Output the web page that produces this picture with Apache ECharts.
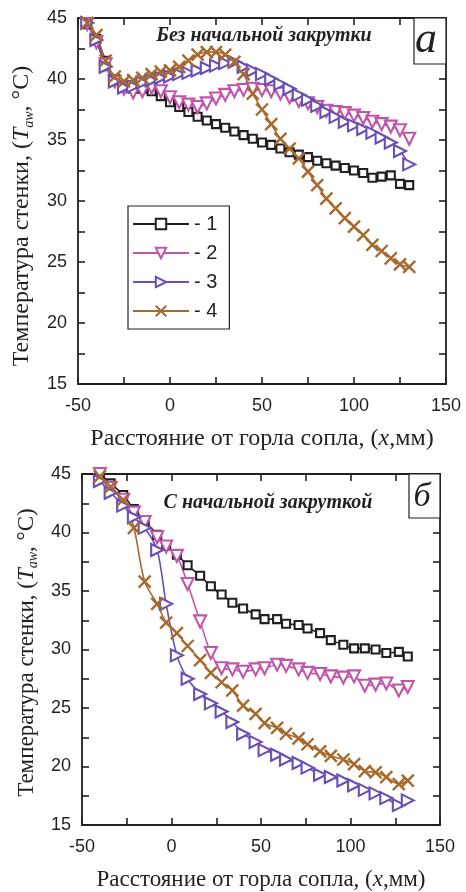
<!DOCTYPE html>
<html>
<head>
<meta charset="utf-8">
<script src="https://cdn.jsdelivr.net/npm/echarts@6/dist/echarts.min.js"></script>
<style>
  html, body { margin: 0; padding: 0; background: #fff; }
  #chart { width: 466px; height: 892px; }
</style>
</head>
<body>
<div id="chart"></div>
<script>
// Axis ticks shared by both panels
const xTicks = [-50, 0, 50, 100, 150];
const yTicks = [15, 20, 25, 30, 35, 40, 45];
const seriesNames = ['- 1', '- 2', '- 3', '- 4'];

// Panel а: без начальной закрутки
const xA = [-45, -40, -35, -30, -25, -20, -15, -10, -5, 0, 5, 10, 15, 20, 25, 30, 35, 40, 45, 50,
            55, 60, 65, 70, 75, 80, 85, 90, 95, 100, 105, 110, 115, 120, 125, 130];
const a1 = [44.5, 43.3, 41.5, 40.0, 39.4, 39.2, 39.2, 39.0, 38.6, 38.1, 37.7, 37.3, 36.9, 36.6, 36.3, 36.0, 35.7, 35.4, 35.1, 34.8,
            34.6, 34.3, 34.0, 33.8, 33.6, 33.3, 33.1, 32.9, 32.7, 32.5, 32.3, 31.9, 32.0, 32.1, 31.4, 31.3];
const a2 = [44.5, 43.0, 41.2, 39.8, 39.2, 38.9, 39.0, 39.3, 39.0, 38.5, 38.1, 37.9, 37.7, 38.0, 38.4, 38.7, 39.0, 39.1, 39.2, 39.1,
            39.0, 38.8, 38.5, 38.2, 38.0, 37.7, 37.4, 37.3, 37.2, 37.0, 36.8, 36.5, 36.3, 36.1, 35.8, 35.1];
const a3 = [44.6, 43.2, 41.0, 39.8, 39.3, 39.4, 39.7, 39.9, 40.1, 40.2, 40.4, 40.5, 40.7, 40.9, 41.1, 41.3, 41.4, 41.0, 40.7, 40.4,
            40.0, 39.6, 39.2, 38.7, 38.3, 37.8, 37.3, 36.9, 36.5, 36.2, 35.9, 35.6, 35.2, 34.8, 34.1, 33.0];
const a4 = [44.6, 43.6, 41.5, 40.2, 39.8, 39.9, 40.1, 40.4, 40.6, 40.7, 41.0, 41.5, 42.0, 42.2, 42.2, 42.0, 41.4, 40.4, 38.8, 37.5,
            36.3, 35.1, 34.3, 33.5, 32.4, 31.3, 30.2, 29.4, 28.6, 27.9, 27.2, 26.4, 25.9, 25.3, 24.8, 24.6];

// Panel б: с начальной закруткой
const xB = [-40, -34, -27, -21, -15, -8, -3, 3, 9, 16, 22, 28, 34, 40, 47, 52, 59, 64, 71, 76,
            83, 89, 96, 102, 108, 114, 120, 127, 132];
const b1 = [45.0, 44.2, 43.2, 42.0, 41.0, 39.8, 38.9, 38.1, 37.2, 36.3, 35.4, 34.7, 34.0, 33.5, 33.0, 32.6, 32.6, 32.2, 32.1, 31.8,
            31.4, 30.8, 30.4, 30.1, 30.1, 30.0, 29.7, 29.8, 29.4];
const b2 = [45.0, 43.8, 42.8, 41.7, 40.9, 39.6, 38.8, 38.0, 35.6, 32.4, 29.7, 28.4, 28.3, 28.1, 28.3, 28.4, 28.7, 28.6, 28.3, 28.0,
            27.9, 27.7, 27.6, 27.7, 26.9, 27.0, 27.1, 26.5, 26.8];
const b3 = [44.4, 43.4, 42.3, 41.3, 40.4, 38.5, 33.9, 29.5, 27.5, 26.2, 25.4, 24.7, 23.8, 22.8, 22.1, 21.4, 21.0, 20.6, 20.3, 19.9,
            19.3, 19.1, 18.8, 18.4, 18.0, 17.7, 17.3, 16.7, 17.1];
const b4 = [44.8, 43.9, 42.8, 40.4, 35.8, 33.9, 32.3, 31.4, 30.3, 29.1, 28.0, 27.2, 26.5, 25.2, 24.5, 23.7, 23.3, 22.8, 22.4, 21.9,
            21.3, 20.9, 20.6, 20.2, 19.6, 19.5, 19.1, 18.5, 18.8];

const INK = '#231f20';
const COLORS = ['#231f20', '#c155aa', '#6a4fb3', '#a8692c'];
const SERIF = '"Liberation Serif", "Times New Roman", serif';
const SANS = '"Liberation Sans", Arial, sans-serif';

// marker per series: open square, down triangle, right triangle, cross
const MARKERS = [
  { symbol: 'rect', size: 8, rotate: 0 },
  { symbol: 'triangle', size: 12, rotate: 180 },
  { symbol: 'triangle', size: 12, rotate: -90 },
  { symbol: 'path://M0,0L10,10M10,0L0,10', size: 12, rotate: 0 }
];

const zip = (xs, ys) => xs.map((x, i) => [x, ys[i]]);

const grids = [
  { left: 78, top: 18, width: 368, height: 366 },
  { left: 82, top: 474, width: 358, height: 358 }
];

const axisLine = { show: true, onZero: false, lineStyle: { color: INK, width: 1.8 } };
const tick = { show: true, inside: true, length: 7, lineStyle: { color: INK, width: 1.6 } };
const minor = { show: true, splitNumber: 2, length: 7, lineStyle: { color: INK, width: 1.6 } };

const xName = '{r|Расстояние от горла сопла, (}{i|x}{r|,мм)}';
const yName = '{r|Температура стенки, (}{i|T}{s|aw}{r|, °C)}';
function nameRich(fs) {
  return {
    r: { fontFamily: SERIF, fontSize: fs, color: INK, lineHeight: fs + 4 },
    i: { fontFamily: SERIF, fontSize: fs, fontStyle: 'italic', color: INK, lineHeight: fs + 4 },
    s: { fontFamily: SERIF, fontSize: Math.round(fs * 0.6), fontStyle: 'italic', color: INK,
         verticalAlign: 'bottom', lineHeight: fs + 4, padding: [Math.round(fs * 0.45), 0, 0, 0] }
  };
}

const nameSize = [24, 23];
const yGap = [31, 32];
const yPad = [[0, 30, 0, 0], [0, 6, 0, 0]];

const xAxes = [], yAxes = [];
[0, 1].forEach(g => {
  xAxes.push({
    type: 'value', gridIndex: g, position: 'bottom',
    min: xTicks[0], max: xTicks[xTicks.length - 1], interval: 50,
    axisLine, axisTick: tick, minorTick: minor, splitLine: { show: false },
    axisLabel: { color: INK, fontFamily: SANS, fontSize: 18, margin: 13 },
    name: xName, nameLocation: 'middle', nameGap: 41,
    nameTextStyle: { rich: nameRich(nameSize[g]) }
  });
  xAxes.push({
    type: 'value', gridIndex: g, position: 'top',
    min: xTicks[0], max: xTicks[xTicks.length - 1], interval: 50,
    axisLine, axisTick: tick, minorTick: minor, splitLine: { show: false },
    axisLabel: { show: false }
  });
  yAxes.push({
    type: 'value', gridIndex: g, position: 'left',
    min: yTicks[0], max: yTicks[yTicks.length - 1], interval: 5,
    axisLine, axisTick: tick, minorTick: minor, splitLine: { show: false },
    axisLabel: { color: INK, fontFamily: SANS, fontSize: 18, margin: 11 },
    name: yName, nameLocation: 'middle', nameGap: yGap[g],
    nameTextStyle: { rich: nameRich(nameSize[g]), padding: yPad[g] }
  });
  yAxes.push({
    type: 'value', gridIndex: g, position: 'right',
    min: yTicks[0], max: yTicks[yTicks.length - 1], interval: 5,
    axisLine, axisTick: tick, minorTick: minor, splitLine: { show: false },
    axisLabel: { show: false }
  });
});

function makeSeries(g, xs, ys, k) {
  const m = MARKERS[k];
  return {
    type: 'line', name: seriesNames[k],
    xAxisIndex: g * 2, yAxisIndex: g * 2,
    data: zip(xs, ys),
    smooth: 0.3,
    symbol: m.symbol, symbolSize: m.size, symbolRotate: m.rotate,
    showAllSymbol: true,
    lineStyle: { color: COLORS[k], width: 1.6 },
    itemStyle: {
      color: k === 3 ? COLORS[k] : '#ffffff',
      borderColor: COLORS[k],
      borderWidth: k === 3 ? 2.4 : 2.1
    },
    emphasis: { disabled: true },
    animation: false
  };
}

const series = [];
[a1, a2, a3, a4].forEach((ys, k) => series.push(makeSeries(0, xA, ys, k)));
[b1, b2, b3, b4].forEach((ys, k) => series.push(makeSeries(1, xB, ys, k)));

const chart = echarts.init(document.getElementById('chart'), null, { renderer: 'canvas' });
chart.setOption({
  backgroundColor: '#ffffff',
  animation: false,
  grid: grids,
  xAxis: xAxes,
  yAxis: yAxes,
  legend: {
    data: seriesNames,
    orient: 'vertical',
    left: 128, top: 206,
    itemWidth: 56, itemHeight: 13, itemGap: 9,
    padding: [8, 12, 8, 4],
    borderColor: INK, borderWidth: 1.2,
    backgroundColor: '#ffffff',
    textStyle: { color: INK, fontFamily: SANS, fontSize: 20 },
    selectedMode: false
  },
  graphic: [
    {
      type: 'text',
      style: { text: 'Без начальной закрутки', fill: INK, font: 'italic bold 20px ' + SERIF, textAlign: 'center', textVerticalAlign: 'middle' },
      x: 264, y: 36, z: 10
    },
    {
      type: 'text',
      style: { text: 'С начальной закруткой', fill: INK, font: 'italic bold 20px ' + SERIF, textAlign: 'center', textVerticalAlign: 'middle' },
      x: 268, y: 503, z: 10
    },
    {
      type: 'rect', shape: { x: 414, y: 18, width: 32, height: 46 },
      style: { fill: '#ffffff', stroke: INK, lineWidth: 1.2 }, z: 10
    },
    {
      type: 'text',
      style: { text: 'а', fill: INK, font: 'italic 44px ' + SERIF, textAlign: 'center', textVerticalAlign: 'middle' },
      x: 426, y: 40, z: 11
    },
    {
      type: 'rect', shape: { x: 409, y: 474, width: 31, height: 44 },
      style: { fill: '#ffffff', stroke: INK, lineWidth: 1.2 }, z: 10
    },
    {
      type: 'text',
      style: { text: 'б', fill: INK, font: 'italic 34px ' + SERIF, textAlign: 'center', textVerticalAlign: 'middle' },
      x: 422, y: 497, z: 11
    }
  ],
  series
});
</script>
</body>
</html>
